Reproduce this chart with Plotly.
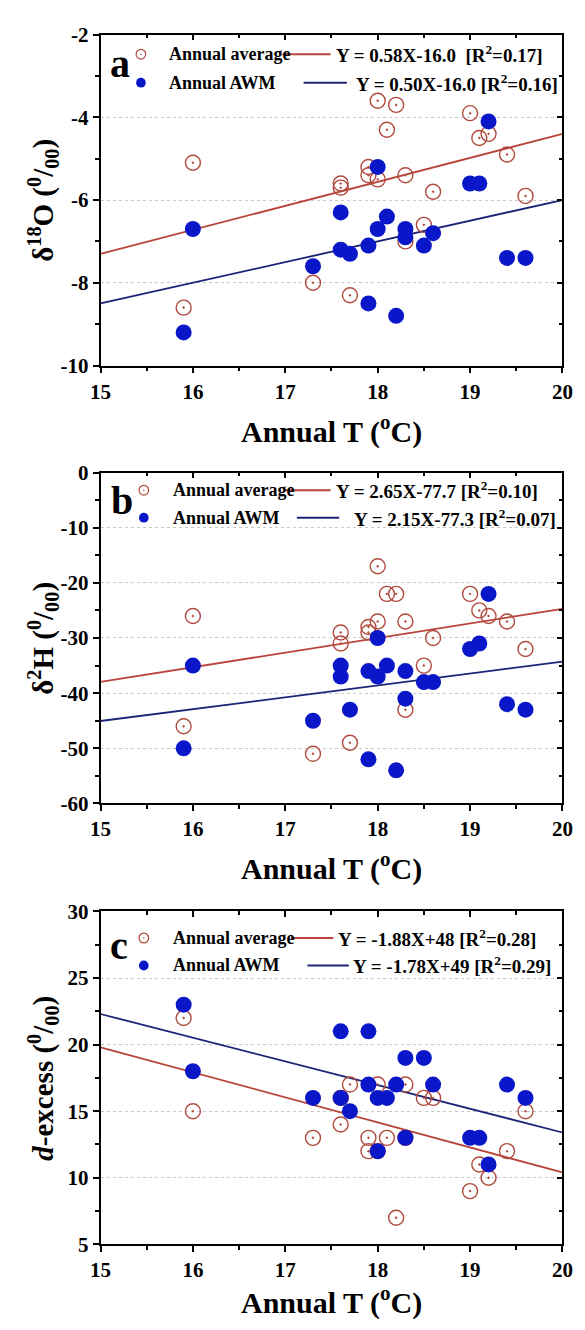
import plotly.graph_objects as go

W, H = 585, 1330

# Annual mean air temperature of each site (deg C)
temp = [15.9, 16.0, 17.3, 17.6, 17.6, 17.7, 17.9, 17.9, 18.0, 18.0, 18.1,
        18.2, 18.3, 18.3, 18.5, 18.6, 19.0, 19.1, 19.2, 19.4, 19.6]

# delta 18O (permil)
o18_avg = [-8.6, -5.1, -8.0, -5.6, -5.7, -8.3, -5.2, -5.4, -3.6, -5.5, -4.3,
           -3.7, -5.4, -7.0, -6.6, -5.8, -3.9, -4.5, -4.4, -4.9, -5.9]
o18_awm = [-9.2, -6.7, -7.6, -6.3, -7.2, -7.3, -7.1, -8.5, -5.2, -6.7, -6.4,
           -8.8, -6.7, -6.9, -7.1, -6.8, -5.6, -5.6, -4.1, -7.4, -7.4]

# delta 2H (permil)
h2_avg = [-46, -26, -51, -29, -31, -49, -28, -29, -17, -27, -22,
          -22, -27, -43, -35, -30, -22, -25, -26, -27, -32]
h2_awm = [-50, -35, -45, -35, -37, -43, -36, -52, -30, -37, -35,
          -54, -36, -41, -38, -38, -32, -31, -22, -42, -43]

# deuterium excess (permil)
dex_avg = [22, 15, 13, 14, 16, 17, 13, 12, 17, 12, 13,
           7, 17, 13, 16, 16, 9, 11, 10, 12, 15]
dex_awm = [23, 18, 16, 21, 16, 15, 17, 21, 12, 16, 16,
           17, 19, 13, 19, 17, 13, 13, 11, 17, 16]

# linear fits: Y = slope * T + intercept
slope_avg = [0.58, 2.65, -1.88]
icpt_avg = [-16.0, -77.7, 48]
slope_awm = [0.50, 2.15, -1.78]
icpt_awm = [-16.0, -77.3, 49]

eq_avg = ["Y = 0.58X-16.0\u00a0\u00a0[R<sup>2</sup>=0.17]",
          "Y = 2.65X-77.7 [R<sup>2</sup>=0.10]",
          "Y = -1.88X+48 [R<sup>2</sup>=0.28]"]
eq_awm = ["Y = 0.50X-16.0 [R<sup>2</sup>=0.16]",
          "Y = 2.15X-77.3 [R<sup>2</sup>=0.07]",
          "Y = -1.78X+49 [R<sup>2</sup>=0.29]"]

x_ticks = [15, 16, 17, 18, 19, 20]
x_ticktext = ["15", "16", "17", "18", "19", "20"]

y_ranges = [(-10, -2), (-60, 0), (5, 30)]
y_ticks = [[-10, -8, -6, -4, -2],
           [-60, -50, -40, -30, -20, -10, 0],
           [5, 10, 15, 20, 25, 30]]
y_ticktext = [["-10", "-8", "-6", "-4", "-2"],
              ["-60", "-50", "-40", "-30", "-20", "-10", "0"],
              ["5", "10", "15", "20", "25", "30"]]
y_minor = [1, 5, 2.5]

panel_letters = ["a", "b", "c"]
y_titles = ["δ<sup>18</sup>O (<sup>0</sup>/<sub>00</sub>)",
            "δ<sup>2</sup>H (<sup>0</sup>/<sub>00</sub>)",
            "<i>d</i>-excess (<sup>0</sup>/<sub>00</sub>)"]
x_title = "Annual T (<sup>o</sup>C)"

avg_series = [o18_avg, h2_avg, dex_avg]
awm_series = [o18_awm, h2_awm, dex_awm]

# colours
RING = "#B04A3E"
RED_LINE = "#B8443A"
BLUE = "#0A17C9"
NAVY = "#1B2475"
GRID = "#C8C8C8"

FONT = "Liberation Serif"

# page layout in pixels
PLOT_L, PLOT_R = 93, 573
TOPS = [23, 469, 916]
BOTTOMS = [360, 806, 1255]
XTITLE_Y = [425, 870, 1312]
YTITLE_X = 33

# inset key geometry (pixels)
KEY = [
    dict(mx=135, rows=(43, 72), tx=162, red=(282, 332), blue=(304, 349), eq=(336, 356), letter=(113, 52)),
    dict(mx=138, rows=(487, 515), tx=166, red=(284, 332), blue=(297, 341), eq=(336, 354), letter=(115, 497)),
    dict(mx=138, rows=(943, 971), tx=166, red=(291, 335), blue=(308, 351), eq=(338, 353), letter=(112, 951)),
]


def px(x):
    return x / W


def py(y):
    return 1 - y / H


def font(size, color="black", weight="bold"):
    return dict(family=FONT, size=size, color=color, weight=weight)


fig = go.Figure()
annotations = []
shapes = []
layout_axes = {}

for i in range(3):
    n = i + 1
    sfx = "" if n == 1 else str(n)
    xa, ya = "x" + sfx, "y" + sfx
    mx_, my_ = f"x{n + 3}", f"y{n + 3}"

    fx = [15, 20]
    fig.add_trace(go.Scatter(x=fx, y=[slope_avg[i] * v + icpt_avg[i] for v in fx],
                             mode="lines", line=dict(color=RED_LINE, width=1.8),
                             xaxis=xa, yaxis=ya, showlegend=False, hoverinfo="skip"))
    fig.add_trace(go.Scatter(x=fx, y=[slope_awm[i] * v + icpt_awm[i] for v in fx],
                             mode="lines", line=dict(color=NAVY, width=1.8),
                             xaxis=xa, yaxis=ya, showlegend=False, hoverinfo="skip"))
    fig.add_trace(go.Scatter(x=temp, y=avg_series[i], mode="markers",
                             marker=dict(symbol="circle-open-dot", size=15, color=RING,
                                         line=dict(width=1.4, color=RING)),
                             xaxis=xa, yaxis=ya, showlegend=False))
    fig.add_trace(go.Scatter(x=temp, y=awm_series[i], mode="markers",
                             marker=dict(symbol="circle", size=16, color=BLUE,
                                         line=dict(width=0)),
                             xaxis=xa, yaxis=ya, showlegend=False))
    # empty trace so the top/right frame axes get drawn
    fig.add_trace(go.Scatter(x=[], y=[], xaxis=mx_, yaxis=my_, showlegend=False))

    ydom = [py(BOTTOMS[i]), py(TOPS[i])]
    xdom = [px(PLOT_L), px(PLOT_R)]
    common = dict(showline=True, linecolor="black", linewidth=1.6, zeroline=False,
                  tickwidth=1.5, tickcolor="black", tickfont=font(21))

    layout_axes["xaxis" + sfx] = dict(
        domain=xdom, range=[15, 20], anchor=ya, tickmode="array",
        tickvals=x_ticks, ticktext=x_ticktext, ticks="outside", ticklen=6,
        minor=dict(tickmode="linear", tick0=15, dtick=0.5, ticks="outside",
                   ticklen=4, tickwidth=1.5, tickcolor="black", showgrid=False),
        showgrid=False, **common)
    layout_axes["yaxis" + sfx] = dict(
        domain=ydom, range=list(y_ranges[i]), anchor=xa, tickmode="array",
        tickvals=y_ticks[i], ticktext=y_ticktext[i], ticks="outside", ticklen=6,
        minor=dict(tickmode="linear", tick0=y_ranges[i][0], dtick=y_minor[i],
                   ticks="outside", ticklen=4, tickwidth=1.5, tickcolor="black",
                   showgrid=False),
        showgrid=True, gridcolor=GRID, griddash="dot", gridwidth=1, **common)
    layout_axes[f"xaxis{n + 3}"] = dict(
        overlaying=xa, side="top", anchor=my_, range=[15, 20], tickmode="array",
        tickvals=x_ticks, ticks="inside", ticklen=6, showticklabels=False,
        minor=dict(tickmode="linear", tick0=15, dtick=0.5, ticks="inside",
                   ticklen=4, tickwidth=1.5, tickcolor="black"),
        showgrid=False, **common)
    layout_axes[f"yaxis{n + 3}"] = dict(
        overlaying=ya, side="right", anchor=mx_, range=list(y_ranges[i]),
        tickmode="array", tickvals=y_ticks[i], ticks="inside", ticklen=6,
        showticklabels=False,
        minor=dict(tickmode="linear", tick0=y_ranges[i][0], dtick=y_minor[i],
                   ticks="inside", ticklen=4, tickwidth=1.5, tickcolor="black"),
        showgrid=False, **common)

    # axis titles
    annotations.append(dict(text=x_title, x=px((PLOT_L + PLOT_R) / 2), y=py(XTITLE_Y[i]),
                            xref="paper", yref="paper", xanchor="center", yanchor="middle",
                            showarrow=False, font=font(30)))
    annotations.append(dict(text=y_titles[i], x=px(YTITLE_X), y=py((TOPS[i] + BOTTOMS[i]) / 2),
                            xref="paper", yref="paper", xanchor="center", yanchor="middle",
                            textangle=-90, showarrow=False, font=font(29)))

    # inset key
    k = KEY[i]
    r1, r2 = k["rows"]
    annotations.append(dict(text=panel_letters[i], x=px(k["letter"][0]), y=py(k["letter"][1]),
                            xref="paper", yref="paper", xanchor="center", yanchor="middle",
                            showarrow=False, font=font(40)))
    rad = 5
    shapes.append(dict(type="circle", xref="paper", yref="paper",
                       x0=px(k["mx"] - rad), x1=px(k["mx"] + rad),
                       y0=py(r1 + rad), y1=py(r1 - rad),
                       line=dict(color=RING, width=1.2), fillcolor="rgba(0,0,0,0)"))
    shapes.append(dict(type="circle", xref="paper", yref="paper",
                       x0=px(k["mx"] - 0.8), x1=px(k["mx"] + 0.8),
                       y0=py(r1 + 0.8), y1=py(r1 - 0.8),
                       line=dict(width=0), fillcolor=RING))
    shapes.append(dict(type="circle", xref="paper", yref="paper",
                       x0=px(k["mx"] - rad), x1=px(k["mx"] + rad),
                       y0=py(r2 + rad), y1=py(r2 - rad),
                       line=dict(width=0), fillcolor=BLUE))
    shapes.append(dict(type="line", xref="paper", yref="paper",
                       x0=px(k["red"][0]), x1=px(k["red"][1]), y0=py(r1), y1=py(r1),
                       line=dict(color=RED_LINE, width=2)))
    shapes.append(dict(type="line", xref="paper", yref="paper",
                       x0=px(k["blue"][0]), x1=px(k["blue"][1]), y0=py(r2), y1=py(r2),
                       line=dict(color=NAVY, width=2)))
    for txt, xx, yy, sz in [("Annual average", k["tx"], r1, 18), ("Annual AWM", k["tx"], r2, 18),
                            (eq_avg[i], k["eq"][0], r1, 19), (eq_awm[i], k["eq"][1], r2, 19)]:
        annotations.append(dict(text=txt, x=px(xx), y=py(yy), xref="paper", yref="paper",
                                xanchor="left", yanchor="middle", showarrow=False,
                                font=font(sz)))

fig.update_layout(
    width=W, height=H, margin=dict(l=0, r=0, t=0, b=0),
    paper_bgcolor="white", plot_bgcolor="white", showlegend=False,
    annotations=annotations, shapes=shapes, **layout_axes)

fig.write_html("out.html")
